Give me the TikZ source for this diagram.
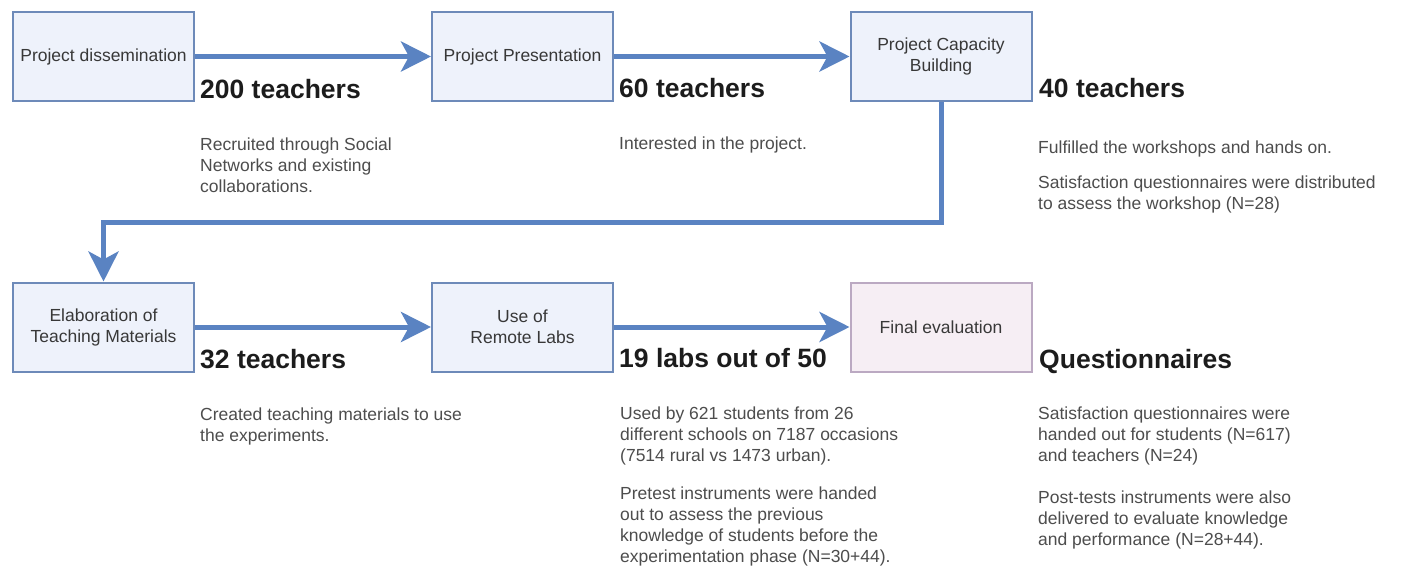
\documentclass[tikz,border=0pt]{standalone}
\usepackage{fontspec}
\setmainfont{Liberation Sans}
\usetikzlibrary{arrows.meta}
\definecolor{boxfill}{HTML}{EEF2FB}
\definecolor{boxline}{HTML}{6D8AB9}
\definecolor{evalfill}{HTML}{F6EEF4}
\definecolor{evalline}{HTML}{BBA9C2}
\definecolor{arrowc}{HTML}{5A83C2}
\definecolor{titlec}{HTML}{1C1C1C}
\definecolor{boxtext}{HTML}{383838}
\definecolor{desctext}{HTML}{4D4D4D}
\begin{document}
\begin{tikzpicture}[x=1pt,y=-1pt,
 stepbox/.style={draw=boxline, fill=boxfill, line width=2pt, minimum width=181pt, minimum height=89pt, inner sep=2pt, align=center, text=boxtext, font=\fontsize{17.5}{21}\selectfont},
 evalbox/.style={stepbox, draw=evalline, fill=evalfill},
 count/.style={anchor=base west, inner sep=0pt, text=titlec, font=\fontsize{26.5}{30}\selectfont\bfseries},
 desc/.style={anchor=north west, inner sep=0pt, align=left, text=desctext, font=\fontsize{17.5}{21}\selectfont},
 flow/.style={draw=arrowc, line width=5pt, -{Stealth[length=30pt,width=30pt,inset=8pt]}}
]
\fill[white] (0,0) rectangle (1401,570);
\useasboundingbox (0,0) rectangle (1401,570);

\node[stepbox] (b1) at (103.5,56.5) {Project dissemination};
\node[stepbox] (b2) at (522.5,56.5) {Project Presentation};
\node[stepbox] (b3) at (941,56.5) {Project Capacity\\Building};
\node[stepbox] (b4) at (103.5,327) {Elaboration of\\Teaching Materials};
\node[stepbox] (b5) at (522.5,327) {Use of\\Remote Labs};
\node[evalbox] (b6) at (941,327) {Final evaluation};

\coordinate (turn) at (0,222);
\draw[flow] (b1) -- (b2);
\draw[flow] (b2) -- (b3);
\draw[flow] (b3.south) -- (b3.south |- turn) -| (b4.north);
\draw[flow] (b4) -- (b5);
\draw[flow] (b5) -- (b6);

\node[count] (t1) at (200,98) {200 teachers};
\node[count] (t2) at (619,97) {60 teachers};
\node[count] (t3) at (1039,97) {40 teachers};
\node[count] (t4) at (200,368) {32 teachers};
\node[count] (t5) at (619,367) {19 labs out of 50};
\node[count] (t6) at (1039,368) {Questionnaires};

\node[desc] (d1) at (200,138) {Recruited through Social\\Networks and existing\\collaborations.};
\node[desc] (d2) at (619,137) {Interested in the project.};
\node[desc] (d3a) at (1038,141) {Fulfilled the workshops and hands on.};
\node[desc] (d3b) at (1038,176) {Satisfaction questionnaires were distributed\\to assess the workshop (N=28)};
\node[desc] (d4) at (200,408) {Created teaching materials to use\\the experiments.};
\node[desc] (d5a) at (620,407) {Used by 621 students from 26\\different schools on 7187 occasions\\(7514 rural vs 1473 urban).};
\node[desc] (d5b) at (620,487) {Pretest instruments were handed\\out to assess the previous\\knowledge of students before the\\experimentation phase (N=30+44).};
\node[desc] (d6a) at (1038,407) {Satisfaction questionnaires were\\handed out for students (N=617)\\and teachers (N=24)};
\node[desc] (d6b) at (1038,491) {Post-tests instruments were also\\delivered to evaluate knowledge\\and performance (N=28+44).};
\end{tikzpicture}
\end{document}
